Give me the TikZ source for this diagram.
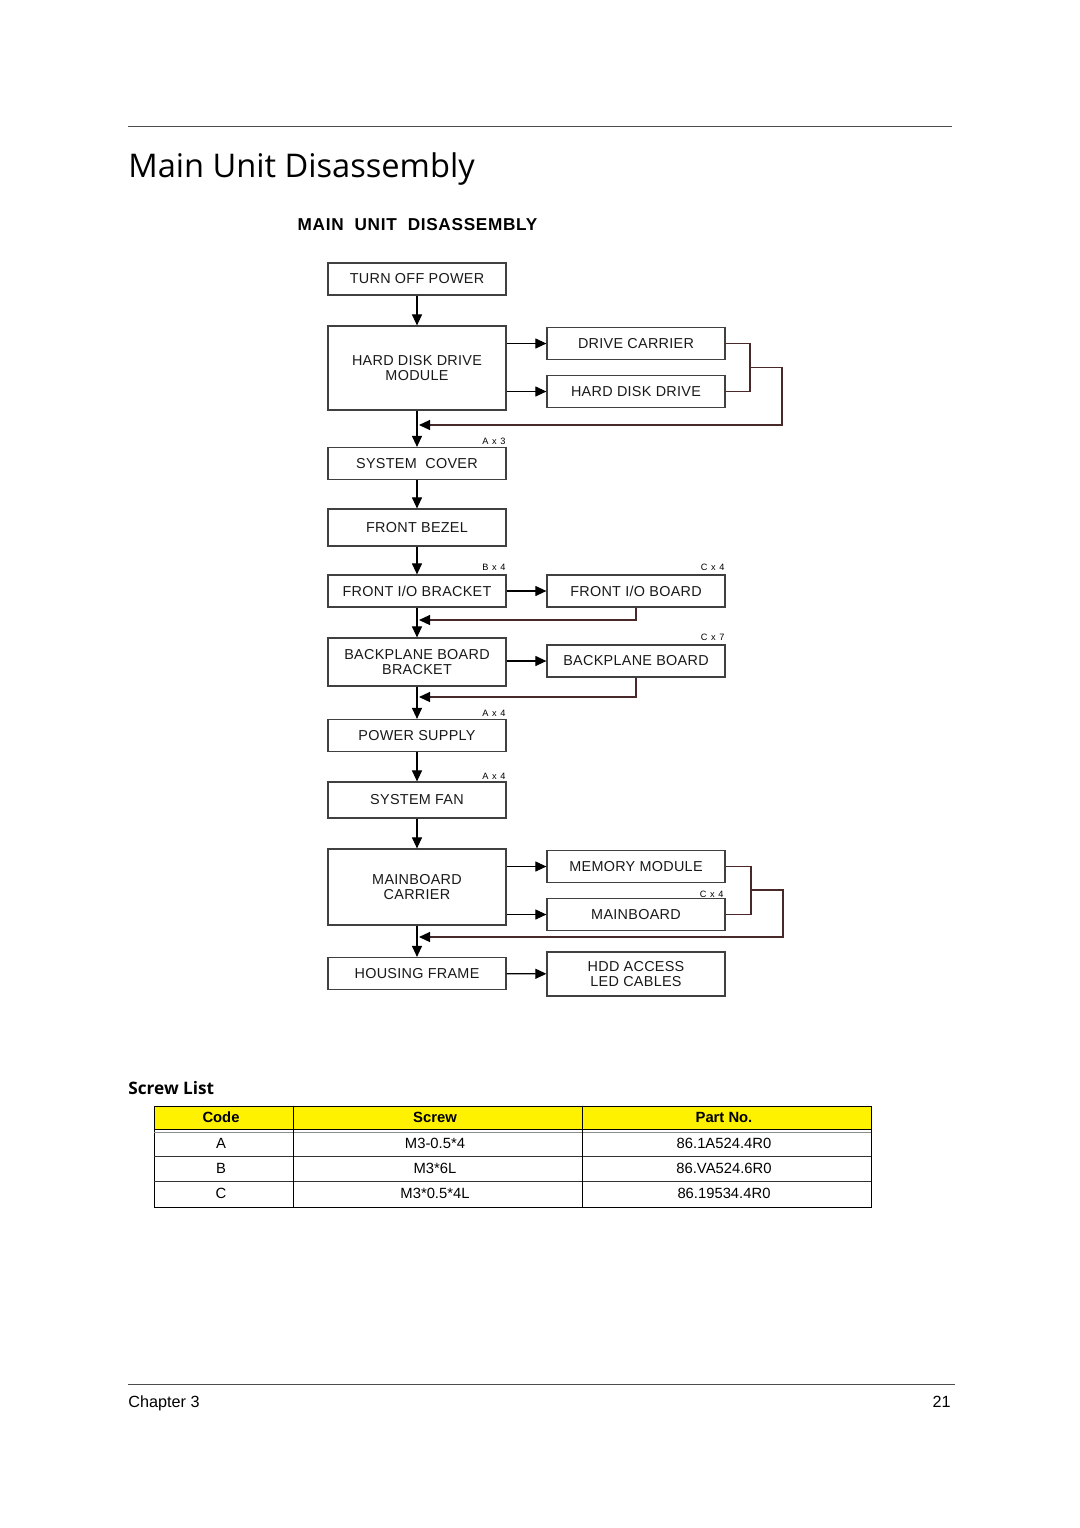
\documentclass[tikz,border=0pt]{standalone}
\usepackage{fontspec}
\setmainfont{Liberation Sans}
\newfontfamily\headfont{Open Sans}
\usetikzlibrary{
  arrows.meta,
  calc
}
\definecolor{linkbrown}{RGB}{72,40,40}
\tikzset{
  % Boxes of the flow chart.
  stepbox/.style={
    draw=black!75,
    line width=0.6pt,
    minimum width=89pt,
    minimum height=16pt,
    inner sep=0pt,
    align=center,
    text=black!90,
    font=\fontsize{7.2}{7.8}\selectfont\addfontfeature{LetterSpace=2}},
%
  % For the main arrows.
  flow/.style={
    line width=0.55pt,
    -{Triangle[length=5.5pt,width=5pt,color=black]}},
%
  % For the lines going back to the main column.
  link/.style={
    line width=0.55pt,
    draw=linkbrown},
%
  % Screw counts above the boxes.
  screws/.style={
    font=\fontsize{4.6}{5}\selectfont\addfontfeature{LetterSpace=12},
    anchor=base east,
    inner sep=0pt},
%
  % For the screw table.
  cell/.style={
    font=\fontsize{7.4}{8}\selectfont},
  rule/.style={
    line width=0.5pt,
    draw=black!70},
}

\begin{document}
\begin{tikzpicture}[x=0.5pt, y=-0.5pt]
  \fill[white] (0,0) rectangle (1080,1528);
  \useasboundingbox (0,0) rectangle (1080,1528);

  % Page head.
  \draw[rule] (128,126) -- (952,126);
  \node[anchor=west, inner sep=0pt, font=\headfont\fontsize{16.3}{20}\selectfont]
    (title) at (128,169) {Main Unit Disassembly};
  \node[font=\bfseries\fontsize{8.6}{10}\selectfont\addfontfeature{LetterSpace=4}]
    (charttitle) at (417.5,225) {MAIN\ \ UNIT\ \ DISASSEMBLY};

  % Main column.
  \node[stepbox] (power) at (417,279) {TURN OFF POWER};
  \node[stepbox, minimum height=42pt] (hddmod) at (417,368)
    {HARD DISK DRIVE\\MODULE};
  \node[stepbox] (cover) at (417,463.5) {SYSTEM\ \ COVER};
  \node[stepbox, minimum height=18.5pt] (bezel) at (417,527.5) {FRONT BEZEL};
  \node[stepbox] (iobracket) at (417,591) {FRONT I/O BRACKET};
  \node[stepbox, minimum height=24pt] (bpbracket) at (417,662)
    {BACKPLANE BOARD\\BRACKET};
  \node[stepbox] (psu) at (417,735.5) {POWER SUPPLY};
  \node[stepbox, minimum height=18pt] (fan) at (417,800) {SYSTEM FAN};
  \node[stepbox, minimum height=38pt] (mbcarrier) at (417,887)
    {MAINBOARD\\CARRIER};
  \node[stepbox] (frame) at (417,973.5) {HOUSING FRAME};

  % Side column.
  \node[stepbox] (carrier) at (636,343.5) {DRIVE CARRIER};
  \node[stepbox] (hdd) at (636,391.5) {HARD DISK DRIVE};
  \node[stepbox] (ioboard) at (636,591) {FRONT I/O BOARD};
  \node[stepbox] (bpboard) at (636,661) {BACKPLANE BOARD};
  \node[stepbox] (memory) at (636,866.5) {MEMORY MODULE};
  \node[stepbox] (mainboard) at (636,914.5) {MAINBOARD};
  \node[stepbox, minimum height=22pt] (cables) at (636,974)
    {HDD ACCESS\\LED CABLES};

  % Screw counts.
  \node[screws] (ax3) at (506,444) {A x 3};
  \node[screws] (bx4) at (506,570) {B x 4};
  \node[screws] (cx4) at (725,570) {C x 4};
  \node[screws] (cx7) at (725,640) {C x 7};
  \node[screws] (ax4) at (506,716) {A x 4};
  \node[screws] (ax4b) at (506,779) {A x 4};
  \node[screws] (cx4b) at (724,897) {C x 4};

  \draw[flow] (power) -- (hddmod);
  \draw[flow] (hddmod) -- (cover);
  \draw[flow] (cover) -- (bezel);
  \draw[flow] (bezel) -- (iobracket);
  \draw[flow] (iobracket) -- (bpbracket);
  \draw[flow] (bpbracket) -- (psu);
  \draw[flow] (psu) -- (fan);
  \draw[flow] (fan) -- (mbcarrier);
  \draw[flow] (mbcarrier) -- (frame);

  \draw[flow] (hddmod.east |- carrier) -- (carrier);
  \draw[flow] (hddmod.east |- hdd) -- (hdd);
  \draw[flow] (iobracket) -- (ioboard);
  \draw[flow] (bpbracket.east |- bpboard) -- (bpboard);
  \draw[flow] (mbcarrier.east |- memory) -- (memory);
  \draw[flow] (mbcarrier.east |- mainboard) -- (mainboard);
  \draw[flow] (frame) -- (cables);

  % Lines going back to the main column.
  \coordinate (hddjoin) at (750,367.5);
  \coordinate (hddback) at (419,425);
  \draw[link] (carrier.east) -| (hddjoin) |- (hdd.east);
  \draw[link, flow] (hddjoin) -- (782,367.5) |- (hddback);

  \coordinate (ioback) at (419,620);
  \draw[link, flow] (ioboard.south) |- (ioback);
  \coordinate (bpback) at (419,697);
  \draw[link, flow] (bpboard.south) |- (bpback);

  \coordinate (mbjoin) at (751,890);
  \coordinate (mbback) at (419,937);
  \draw[link] (memory.east) -| (mbjoin) |- (mainboard.east);
  \draw[link, flow] (mbjoin) -- (783,890) |- (mbback);

  % Screw list.
  \node[anchor=base west, inner sep=0pt,
        font=\headfont\bfseries\fontsize{8.6}{10}\selectfont]
    (screwlist) at (128,1094) {Screw List};
  \fill[yellow] (154,1106) rectangle (871,1129);
  \draw[rule, draw=black] (154,1106) rectangle (871,1207);
  \draw[rule, draw=black] (154,1129.5) -- (871,1129.5);
  \draw[rule, draw=black!45] (154,1132.5) -- (871,1132.5);
  \draw[rule, draw=black!80] (154,1156.5) -- (871,1156.5);
  \draw[rule, draw=black!80] (154,1181.5) -- (871,1181.5);
  \draw[rule, draw=black] (293,1106) -- (293,1207);
  \draw[rule, draw=black] (582,1106) -- (582,1207);
  \node[cell, font=\bfseries\fontsize{7.4}{8}\selectfont] (hcode) at (221,1117.5) {Code};
  \node[cell, font=\bfseries\fontsize{7.4}{8}\selectfont] (hscrew) at (435,1117.5) {Screw};
  \node[cell, font=\bfseries\fontsize{7.4}{8}\selectfont] (hpart) at (724,1117.5) {Part No.};
  \foreach \code/\screw/\part [count=\i] in
      {A/M3-0.5*4/86.1A524.4R0, B/M3*6L/86.VA524.6R0, C/M3*0.5*4L/86.19534.4R0} {
    \node[cell] (code\i) at (221,1118.5+25*\i) {\code};
    \node[cell] (screw\i) at (435,1118.5+25*\i) {\screw};
    \node[cell] (part\i) at (724,1118.5+25*\i) {\part};
  }

  % Page foot.
  \draw[rule] (128,1384) -- (955,1384);
  \node[anchor=base west, inner sep=0pt, font=\fontsize{8.1}{10}\selectfont]
    (chapter) at (128,1407) {Chapter 3};
  \node[anchor=base east, inner sep=0pt, font=\fontsize{8.1}{10}\selectfont]
    (pageno) at (951,1407) {21};
\end{tikzpicture}
\end{document}
